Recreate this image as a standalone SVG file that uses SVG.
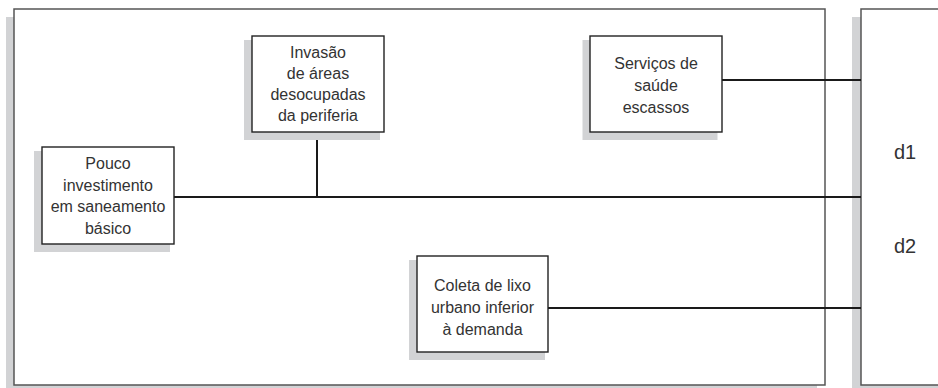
<svg xmlns="http://www.w3.org/2000/svg" width="938" height="388" viewBox="0 0 938 388">
<style>
.shadow{fill:#d2d3d5;stroke:none}
.frame{fill:#fff;stroke:#555;stroke-width:1.5}
.box{fill:#fff;stroke:#222;stroke-width:1.4}
.conn{stroke:#1a1a1a;stroke-width:2;fill:none}
.t{font-family:"Liberation Sans",Arial,sans-serif;font-size:16px;fill:#333;text-anchor:middle}
.d{font-family:"Liberation Sans",Arial,sans-serif;font-size:20px;fill:#333;text-anchor:middle}
</style>
<rect width="938" height="388" fill="#fff"/>
<g id="frame-main">
<rect class="shadow" x="6" y="17" width="811" height="380"/>
<rect class="frame" x="14" y="9" width="811" height="376"/>
</g>
<g id="frame-right">
<rect class="shadow" x="852" y="17" width="100" height="380"/>
<rect class="frame" x="861" y="9" width="90" height="376"/>
<text class="d" x="905" y="159">d1</text>
<text class="d" x="905" y="253">d2</text>
</g>
<g id="connectors">
<line class="conn" x1="722" y1="80" x2="861" y2="80"/>
<line class="conn" x1="174" y1="197" x2="861" y2="197"/>
<line class="conn" x1="317" y1="132" x2="317" y2="197"/>
<line class="conn" x1="548" y1="308" x2="861" y2="308"/>
</g>
<g id="node-invasao">
<rect class="shadow" x="244" y="40" width="136" height="100"/>
<rect class="box" x="252" y="36" width="132" height="96"/>
<text class="t" x="318" y="58">Invasão</text>
<text class="t" x="318" y="79">de áreas</text>
<text class="t" x="318" y="100">desocupadas</text>
<text class="t" x="318" y="121">da periferia</text>
</g>
<g id="node-pouco">
<rect class="shadow" x="34" y="151" width="136" height="101"/>
<rect class="box" x="42" y="147" width="132" height="97"/>
<text class="t" x="108" y="169">Pouco</text>
<text class="t" x="108" y="190.5">investimento</text>
<text class="t" x="108" y="212">em saneamento</text>
<text class="t" x="108" y="233.5">básico</text>
</g>
<g id="node-servicos">
<rect class="shadow" x="582.5" y="40" width="135" height="100"/>
<rect class="box" x="590" y="36" width="132" height="96"/>
<text class="t" x="656" y="69">Serviços de</text>
<text class="t" x="656" y="91">saúde</text>
<text class="t" x="656" y="113">escassos</text>
</g>
<g id="node-coleta">
<rect class="shadow" x="409" y="260" width="136" height="100"/>
<rect class="box" x="417" y="256" width="131" height="96"/>
<text class="t" x="482.5" y="290.5">Coleta de lixo</text>
<text class="t" x="482.5" y="312.5">urbano inferior</text>
<text class="t" x="482.5" y="334.5">à demanda</text>
</g>
</svg>
